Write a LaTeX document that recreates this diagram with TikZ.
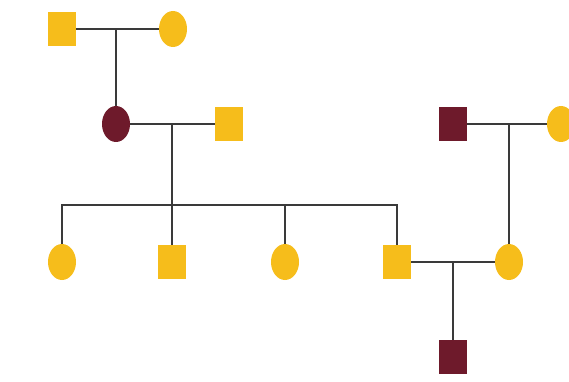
\documentclass[tikz,border=0pt]{standalone}
\usetikzlibrary{shapes.geometric}
\definecolor{gold}{HTML}{F6BD1B}
\definecolor{maroon}{HTML}{6E1A2B}
\definecolor{linec}{HTML}{3A3A3A}
\tikzset{
  male/.style={rectangle, minimum width=28pt, minimum height=34pt, inner sep=0pt},
  female/.style={ellipse, minimum width=28pt, minimum height=36pt, inner sep=0pt},
  unaff/.style={fill=gold},
  aff/.style={fill=maroon},
  rel/.style={draw=linec, line width=1.6pt}
}
\begin{document}
\begin{tikzpicture}[x=1pt,y=-1pt]
\useasboundingbox (0,0) rectangle (569,382);
% individuals
\node[male,unaff]   (g1m) at (62,29) {};
\node[female,unaff] (g1f) at (173,29) {};
\node[female,aff]   (g2f) at (116,124) {};
\node[male,unaff]   (g2m) at (229,124) {};
\node[male,aff]     (r1m) at (453,124) {};
\node[female,unaff] (r1f) at (561,124) {};
\node[female,unaff] (c1) at (62,262) {};
\node[male,unaff]   (c2) at (172,262) {};
\node[female,unaff] (c3) at (285,262) {};
\node[male,unaff]   (c4) at (397,262) {};
\node[female,unaff] (c5) at (509,262) {};
\node[male,aff]     (g4) at (453,357) {};
% junction points
\coordinate (m1) at (116,29);
\coordinate (m2) at (172,124);
\coordinate (m3) at (509,124);
\coordinate (m4) at (453,262);
\coordinate (sb) at (172,205);
\coordinate (s1) at (62,205);
\coordinate (s3) at (285,205);
\coordinate (s4) at (397,205);
% connectors
\draw[rel] (g1m) -- (g1f);
\draw[rel] (m1) -- (g2f);
\draw[rel] (g2f) -- (g2m);
\draw[rel] (m2) -- (c2);
\draw[rel] (c1) -- (s1) -- (s4) -- (c4);
\draw[rel] (s3) -- (c3);
\draw[rel] (r1m) -- (r1f);
\draw[rel] (m3) -- (c5);
\draw[rel] (c4) -- (c5);
\draw[rel] (m4) -- (g4);
\end{tikzpicture}
\end{document}
